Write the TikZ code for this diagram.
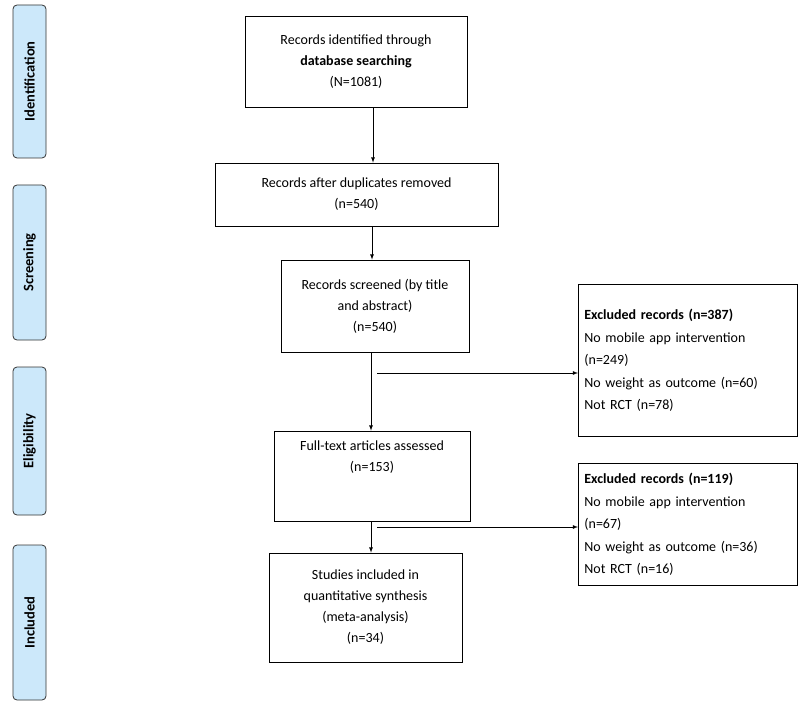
\documentclass[tikz,border=0pt]{standalone}
\usepackage{fontspec}
\setmainfont{Carlito}
\begin{document}
\begin{tikzpicture}[x=1pt,y=-1pt,
  box/.style={draw,line width=0.8pt,align=center,font=\fontsize{14}{21}\selectfont,inner sep=0pt},
  ex/.style={draw,line width=0.8pt,align=left,font=\fontsize{14}{22.5}\selectfont,inner sep=6pt,anchor=north west,text width=207pt},
  side/.style={draw=black!80,fill={rgb,255:red,204;green,232;blue,250},rounded corners=4pt,line width=0.8pt,minimum width=33pt,font=\bfseries\fontsize{14.5}{16}\selectfont},
  arr/.style={-latex,line width=0.8pt}]
\useasboundingbox (0,0) rectangle (800,711);
\node[side,minimum height=153pt] (s1) at (29.5,81.5) {\rotatebox{90}{Identification}};
\node[side,minimum height=155pt] (s2) at (29.5,262.5) {\rotatebox{90}{Screening}};
\node[side,minimum height=148pt] (s3) at (29.5,441) {\rotatebox{90}{Eligibility}};
\node[side,minimum height=155pt] (s4) at (29.5,622.5) {\rotatebox{90}{Included}};
\node[box,minimum width=222pt,minimum height=91pt] (b1) at (356,61.5) {Records identified through\\\textbf{database searching}\\(N=1081)};
\node[box,minimum width=283pt,minimum height=63pt] (b2) at (356.5,194.5) {Records after duplicates removed\\(n=540)};
\node[box,minimum width=188pt,minimum height=92pt] (b3) at (375,306) {Records screened (by title\\and abstract)\\(n=540)};
\node[box,minimum width=196pt,minimum height=90pt] (b4) at (372,476) {Full-text articles assessed\\(n=153)\\[18pt]};
\node[box,minimum width=193pt,minimum height=109pt] (b5) at (365.5,607.5) {Studies included in\\quantitative synthesis\\(meta-analysis)\\(n=34)};
\node[ex,minimum height=152pt] (e1) at (578,284) {\textbf{Excluded records (n=387)}\\No mobile app intervention\\(n=249)\\No weight as outcome (n=60)\\Not RCT (n=78)};
\node[ex,minimum height=122pt] (e2) at (578,463) {\textbf{Excluded records (n=119)}\\No mobile app intervention\\(n=67)\\No weight as outcome (n=36)\\Not RCT (n=16)};
\draw[arr] (b1.south) ++(17,0) coordinate (a1) -- (a1 |- b2.north);
\draw[arr] (b2.south) ++(15.5,0) coordinate (a2) -- (a2 |- b3.north);
\draw[arr] (b3.south) ++(-4,0) coordinate (a3) -- (a3 |- b4.north);
\draw[arr] (b4.south) ++(-1,0) coordinate (a4) -- (a4 |- b5.north);
\coordinate (h1) at (377,373);
\coordinate (h2) at (377,527);
\draw[arr] (h1) -- (h1 -| e1.west);
\draw[arr] (h2) -- (h2 -| e2.west);
\end{tikzpicture}
\end{document}
